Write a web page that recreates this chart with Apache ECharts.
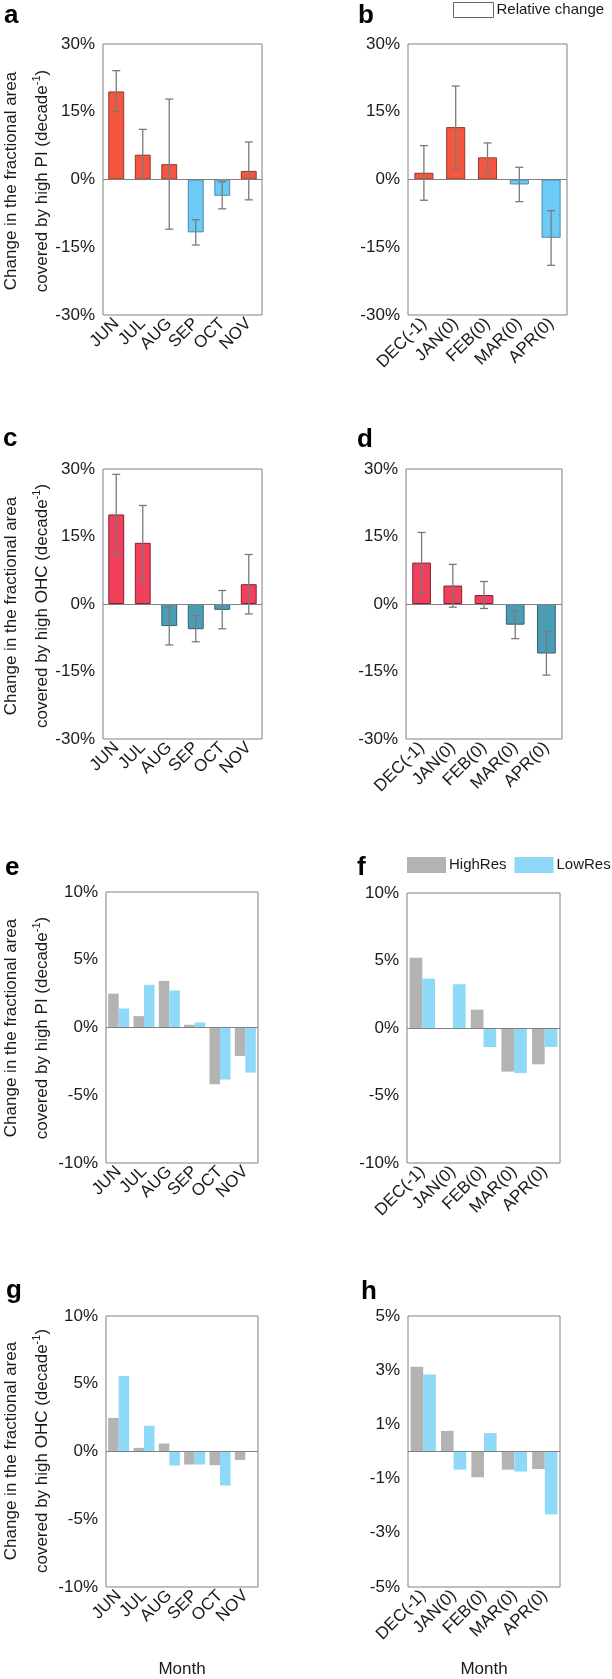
<!DOCTYPE html>
<html>
<head>
<meta charset="utf-8">
<style>
html,body{margin:0;padding:0;background:#fff;}
#chart{width:612px;height:1679px;}
</style>
<script src="https://cdn.jsdelivr.net/npm/echarts@6/dist/echarts.min.js"></script>
</head>
<body>
<div id="chart"></div>
<script>
// ---------- categories ----------
const monthsSummer = ['JUN', 'JUL', 'AUG', 'SEP', 'OCT', 'NOV'];
const monthsWinter = ['DEC(-1)', 'JAN(0)', 'FEB(0)', 'MAR(0)', 'APR(0)'];

// ---------- panel a: relative change, high PI, summer ----------
const aValues = [19.5, 5.5, 3.4, -11.7, -3.6, 1.9];
const aLow    = [15.0, 0.0, -11.0, -14.5, -6.5, -4.5];
const aHigh   = [24.1, 11.1, 17.8, -8.9, -0.5, 8.3];

// ---------- panel b: relative change, high PI, winter ----------
const bValues = [1.5, 11.6, 4.9, -1.1, -12.9];
const bLow    = [-4.6, 2.4, 1.5, -4.9, -19.0];
const bHigh   = [7.5, 20.7, 8.1, 2.7, -6.9];

// ---------- panel c: relative change, high OHC, summer ----------
const cValues = [19.9, 13.6, -4.9, -5.6, -1.3, 4.4];
const cLow    = [11.0, 5.0, -9.1, -8.4, -5.5, -2.2];
const cHigh   = [28.8, 21.9, -0.6, -2.6, 3.0, 11.0];

// ---------- panel d: relative change, high OHC, winter ----------
const dValues = [9.2, 4.1, 2.0, -4.6, -11.0];
const dLow    = [2.5, -0.7, -1.0, -7.7, -15.8];
const dHigh   = [15.9, 8.8, 5.0, -1.5, -6.1];

// ---------- panels e-h: HighRes vs LowRes ----------
const eHighRes = [2.5, 0.84, 3.44, 0.2, -4.19, -2.1];
const eLowRes  = [1.4, 3.15, 2.73, 0.37, -3.84, -3.33];
const fHighRes = [5.21, 0, 1.36, -3.23, -2.69];
const fLowRes  = [3.66, 3.24, -1.41, -3.33, -1.41];
const gHighRes = [2.48, 0.27, 0.59, -0.96, -1.01, -0.62];
const gLowRes  = [5.57, 1.9, -1.03, -0.96, -2.51, 0];
const hHighRes = [3.13, 0.76, -0.95, -0.67, -0.65];
const hLowRes  = [2.84, -0.67, 0.68, -0.74, -2.32];

// ---------- axis ranges (tick labels) ----------
const relAxis = {min: -30, max: 30, interval: 15};
const resAxis = {min: -10, max: 10, interval: 5};
const hAxis   = {min: -5, max: 5, interval: 2};

// ---------- styling ----------
const FONT = "'Liberation Sans', Arial, Helvetica, sans-serif";
const BOX = '#808080';
const TXT = '#1a1a1a';
const PI_POS = '#F4563F', PI_NEG = '#6CCBF6';
const PI_POS_B = '#8e3a2c', PI_NEG_B = '#4f88a6';
const OHC_POS = '#F23F5C', OHC_NEG = '#4B9DB4';
const OHC_POS_B = '#7e2536', OHC_NEG_B = '#2f6273';
const GREY = '#B3B3B3', LBLUE = '#8DD9F7';
const ERR = '#7a7a7a';

const gridPos = [
  {left: 103, top: 44, width: 159, height: 271},
  {left: 408, top: 44, width: 159, height: 271},
  {left: 103, top: 469, width: 159, height: 270},
  {left: 406, top: 469, width: 156, height: 270},
  {left: 106, top: 892, width: 152, height: 271},
  {left: 407, top: 893, width: 153, height: 270},
  {left: 106, top: 1316, width: 152, height: 271},
  {left: 408, top: 1316, width: 152, height: 271}
];

const catsByPanel = [monthsSummer, monthsWinter, monthsSummer, monthsWinter,
                     monthsSummer, monthsWinter, monthsSummer, monthsWinter];
const rangeByPanel = [relAxis, relAxis, relAxis, relAxis, resAxis, resAxis, resAxis, hAxis];

const grid = gridPos.map(g => Object.assign({show: true, borderColor: BOX, borderWidth: 1, backgroundColor: 'transparent'}, g));

const xAxis = catsByPanel.map((cats, i) => {
  const ax = {
    type: 'category', gridIndex: i, data: cats,
    axisLine: {show: false, onZero: false},
    axisTick: {show: false},
    axisLabel: {interval: 0, rotate: 45, fontSize: 17, margin: 6, color: TXT, fontFamily: FONT},
    splitLine: {show: false}
  };
  if (i >= 6) {
    ax.name = 'Month';
    ax.nameLocation = 'middle';
    ax.nameGap = 74;
    ax.nameTextStyle = {fontSize: 17, color: TXT, fontFamily: FONT};
  }
  return ax;
});

const yAxis = rangeByPanel.map((r, i) => ({
  type: 'value', gridIndex: i, min: r.min, max: r.max, interval: r.interval,
  axisLine: {show: false}, axisTick: {show: false}, splitLine: {show: false},
  axisLabel: {formatter: '{value}%', fontSize: 17, margin: 8, color: TXT, fontFamily: FONT}
}));

const zeroLine = {
  silent: true, symbol: 'none', label: {show: false},
  lineStyle: {color: BOX, width: 1, type: 'solid'},
  emphasis: {disabled: true},
  data: [{yAxis: 0}]
};

function relBar(idx, values, pos, neg, posB, negB) {
  return {
    name: 'Relative change', type: 'bar', xAxisIndex: idx, yAxisIndex: idx,
    barCategoryGap: '40%',
    data: values.map(v => ({
      value: v,
      itemStyle: {color: v >= 0 ? pos : neg, borderColor: v >= 0 ? posB : negB, borderWidth: 1}
    })),
    markLine: zeroLine, z: 2
  };
}

function errSeries(idx, low, high) {
  return {
    type: 'custom', xAxisIndex: idx, yAxisIndex: idx, z: 4, silent: true,
    data: low.map((l, i) => [i, l, high[i]]),
    encode: {x: 0, y: [1, 2]},
    renderItem: function (params, api) {
      const lo = api.coord([api.value(0), api.value(1)]);
      const hi = api.coord([api.value(0), api.value(2)]);
      const half = 4;
      const st = {stroke: ERR, lineWidth: 1.3};
      return {
        type: 'group',
        children: [
          {type: 'line', shape: {x1: lo[0], y1: lo[1], x2: hi[0], y2: hi[1]}, style: st},
          {type: 'line', shape: {x1: lo[0] - half, y1: lo[1], x2: lo[0] + half, y2: lo[1]}, style: st},
          {type: 'line', shape: {x1: hi[0] - half, y1: hi[1], x2: hi[0] + half, y2: hi[1]}, style: st}
        ]
      };
    }
  };
}

function resBars(idx, high, low) {
  return [
    {name: 'HighRes', type: 'bar', xAxisIndex: idx, yAxisIndex: idx, data: high,
     barGap: '0%', barCategoryGap: '17%', itemStyle: {color: GREY}, markLine: zeroLine},
    {name: 'LowRes', type: 'bar', xAxisIndex: idx, yAxisIndex: idx, data: low,
     barGap: '0%', barCategoryGap: '17%', itemStyle: {color: LBLUE}}
  ];
}

const series = [
  relBar(0, aValues, PI_POS, PI_NEG, PI_POS_B, PI_NEG_B), errSeries(0, aLow, aHigh),
  relBar(1, bValues, PI_POS, PI_NEG, PI_POS_B, PI_NEG_B), errSeries(1, bLow, bHigh),
  relBar(2, cValues, OHC_POS, OHC_NEG, OHC_POS_B, OHC_NEG_B), errSeries(2, cLow, cHigh),
  relBar(3, dValues, OHC_POS, OHC_NEG, OHC_POS_B, OHC_NEG_B), errSeries(3, dLow, dHigh),
  ...resBars(4, eHighRes, eLowRes),
  ...resBars(5, fHighRes, fLowRes),
  ...resBars(6, gHighRes, gLowRes),
  ...resBars(7, hHighRes, hLowRes)
];

// ---------- text: panel letters and y-axis titles ----------
const letters = [
  ['a', 4, 16], ['b', 358, 16], ['c', 3, 439], ['d', 357, 440],
  ['e', 5, 868], ['f', 357, 868], ['g', 6, 1291], ['h', 361, 1292]
];
const graphic = letters.map(l => ({
  type: 'text', x: l[1], y: l[2], silent: true,
  style: {text: l[0], fontSize: 26, fontWeight: 'bold', fontFamily: FONT, fill: '#000',
          textAlign: 'left', textVerticalAlign: 'middle'}
}));

const yTitles = [
  ['PI', 181], ['OHC', 606], ['PI', 1028], ['OHC', 1451]
];
yTitles.forEach(t => {
  graphic.push({
    type: 'text', x: 11.5, y: t[1], rotation: Math.PI / 2, silent: true,
    style: {text: 'Change in the fractional area', fontSize: 17, fontFamily: FONT, fill: TXT,
            textAlign: 'center', textVerticalAlign: 'middle'}
  });
  graphic.push({
    type: 'text', x: 42, y: t[1], rotation: Math.PI / 2, silent: true,
    style: {
      text: '{a|covered by high ' + t[0] + ' (decade}{s|-1}{a|)}',
      textAlign: 'center', textVerticalAlign: 'middle',
      rich: {
        a: {fontSize: 17, fontFamily: FONT, fill: TXT, color: TXT, lineHeight: 22},
        s: {fontSize: 11, fontFamily: FONT, fill: TXT, color: TXT, verticalAlign: 'top', lineHeight: 22}
      }
    }
  });
});

const option = {
  animation: false,
  backgroundColor: '#fff',
  textStyle: {fontFamily: FONT},
  grid: grid,
  xAxis: xAxis,
  yAxis: yAxis,
  legend: [
    {
      left: 453, top: 2, width: 160, orient: 'horizontal', padding: 0,
      itemWidth: 40, itemHeight: 15, itemGap: 8, selectedMode: false,
      textStyle: {fontSize: 15, color: TXT, fontFamily: FONT, padding: [0, 0, 0, -2]},
      data: [{name: 'Relative change', icon: 'rect',
              itemStyle: {color: '#ffffff', borderColor: '#666', borderWidth: 1}}]
    },
    {
      left: 407, top: 857, width: 205, orient: 'horizontal', padding: 0,
      itemWidth: 39, itemHeight: 16, itemGap: 8, selectedMode: false,
      textStyle: {fontSize: 15, color: TXT, fontFamily: FONT, padding: [0, 0, 0, -2]},
      data: [{name: 'HighRes', icon: 'rect'}, {name: 'LowRes', icon: 'rect'}]
    }
  ],
  graphic: graphic,
  series: series
};

const chart = echarts.init(document.getElementById('chart'), null, {renderer: 'canvas'});
chart.setOption(option);
</script>
</body>
</html>
